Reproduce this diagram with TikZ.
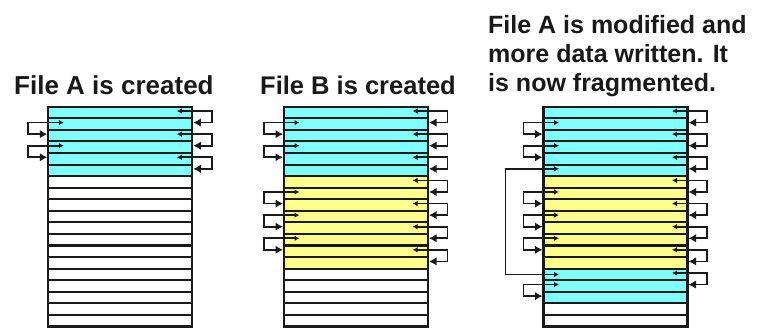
\documentclass[tikz,border=0pt]{standalone}
\usepackage{fontspec}
\setmainfont{Liberation Sans}
\usetikzlibrary{arrows.meta,calc}
\definecolor{fcyan}{RGB}{128,255,255}
\definecolor{fyellow}{RGB}{255,255,140}
\definecolor{ink}{RGB}{25,25,25}
\newcommand\ptrR[2]{\draw[ptr] ($(#1.east)+(-15.5,-1.5)$) -- ($(#1.east)+(19.5,-1.5)$) |- ($(#2.east)+(1,-1.5)$);}
\newcommand\ptrL[2]{\draw[ptr] ($(#1.west)+(15.5,-1.5)$) -- ($(#1.west)+(-20,-1.5)$) |- ($(#2.west)+(-1,-1.5)$);}
\begin{document}
\begin{tikzpicture}[x=1pt,y=-1pt,
  blk/.style={draw=ink, line width=2.1pt, minimum width=144pt, minimum height=11.57pt, inner sep=0pt, outer sep=0pt, anchor=north west},
  ptr/.style={draw=ink, line width=1.7pt, {Latex[length=5pt,width=5.5pt]}-{Latex[length=7.5pt,width=8.5pt]}},
  ptrlong/.style={draw=ink, line width=1.7pt, {Latex[length=5pt,width=5.5pt]}-{Latex[length=5pt,width=5.5pt]}},
  lbl/.style={font=\bfseries, inner sep=0pt, anchor=base west, text=ink}]
\useasboundingbox (0,0) rectangle (759,327);
\fill[white] (0,0) rectangle (759,327);
\foreach \k in {0,...,18} {
  \pgfmathsetmacro\yy{106.7+11.57*\k}
  \ifnum\k<6 \def\fa{fcyan}\else\def\fa{white}\fi
  \ifnum\k<6 \def\fb{fcyan}\else\ifnum\k<14 \def\fb{fyellow}\else\def\fb{white}\fi\fi
  \ifnum\k<6 \def\fc{fcyan}\else\ifnum\k<14 \def\fc{fyellow}\else\ifnum\k<17 \def\fc{fcyan}\else\def\fc{white}\fi\fi\fi
  \node[blk, fill=\fa] (a\k) at (48.3,\yy) {};
  \node[blk, fill=\fb] (b\k) at (284,\yy) {};
  \node[blk, fill=\fc] (c\k) at (543.5,\yy) {};
}
% column 1
\ptrR{a0}{a1} \ptrL{a1}{a2} \ptrR{a2}{a3} \ptrL{a3}{a4} \ptrR{a4}{a5}
% column 2
\ptrR{b0}{b1} \ptrL{b1}{b2} \ptrR{b2}{b3} \ptrL{b3}{b4} \ptrR{b4}{b5}
\ptrR{b6}{b7} \ptrL{b7}{b8} \ptrR{b8}{b9} \ptrL{b9}{b10} \ptrR{b10}{b11} \ptrL{b11}{b12} \ptrR{b12}{b13}
% column 3
\ptrR{c0}{c1} \ptrL{c1}{c2} \ptrR{c2}{c3} \ptrL{c3}{c4} \ptrR{c4}{c5}
\ptrR{c6}{c7} \ptrL{c7}{c8} \ptrR{c8}{c9} \ptrL{c9}{c10} \ptrR{c10}{c11} \ptrL{c11}{c12} \ptrR{c12}{c13}
\draw[ptrlong] ($(c5.west)+(15.5,-1.5)$) -- ($(c5.west)+(-38,-1.5)$) |- ($(c14.west)+(15.5,0)$);
\ptrR{c14}{c15} \ptrL{c15}{c16}
% labels
\node[lbl, font=\bfseries\fontsize{26}{29}\selectfont] (t1) at (14,94) {File A is created};
\node[lbl, font=\bfseries\fontsize{25.5}{29}\selectfont] (t2) at (260,94) {File B is created};
\node[lbl, font=\bfseries\fontsize{25}{29}\selectfont] (t3a) at (488,33) {File A is modified and};
\node[lbl, font=\bfseries\fontsize{25}{29}\selectfont] (t3b) at (488,62) {more data written. It};
\node[lbl, font=\bfseries\fontsize{25}{29}\selectfont] (t3c) at (488,91) {is now fragmented.};
\end{tikzpicture}
\end{document}
